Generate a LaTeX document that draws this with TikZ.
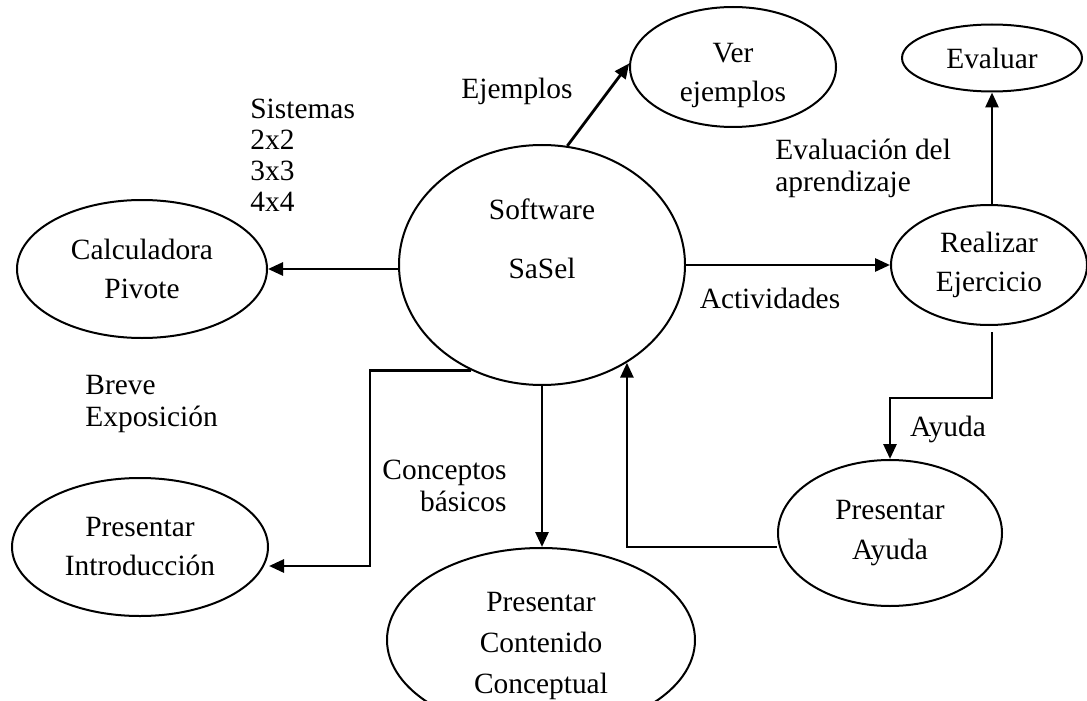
\documentclass[tikz,border=0pt]{standalone}
\usepackage{fontspec}
\setmainfont{Liberation Serif}
\usetikzlibrary{shapes.geometric,arrows.meta}
\begin{document}
\begin{tikzpicture}[x=0.5pt,y=-0.5pt,
  proc/.style={draw, ellipse, line width=1pt, inner sep=0pt, align=center,
    font=\fontsize{14.7}{19.5}\selectfont},
  lbl/.style={inner sep=0pt, font=\fontsize{14.7}{16}\selectfont},
  arr/.style={line width=1.4pt, -{Triangle[length=7.5pt,width=6.5pt]}}]
\useasboundingbox (0,0) rectangle (1087,701);
% processes
\node[proc, minimum width=143pt, minimum height=120pt] (soft) at (542,265) {Software\\[10pt]SaSel\\[7pt]\mbox{}};
\node[proc, minimum width=103pt, minimum height=60pt] (ver) at (733,67) {\mbox{}\\[-1.8pt]Ver\\ejemplos};
\node[proc, minimum width=90pt, minimum height=33.5pt] (eval) at (992,58) {Evaluar};
\node[proc, minimum width=98pt, minimum height=60pt] (real) at (989,265) {Realizar\\Ejercicio};
\node[proc, minimum width=125pt, minimum height=69pt] (calc) at (142,269) {Calculadora\\Pivote};
\node[proc, minimum width=128pt, minimum height=69pt] (intro) at (140,547) {Presentar\\Introducción};
\node[proc, minimum width=154pt, minimum height=92pt] (cont) at (541,640) {\mbox{}\\[-4pt]Presentar\\[1pt]Contenido\\[1pt]Conceptual};
\node[proc, minimum width=112pt, minimum height=73pt] (ayuda) at (890,533) {Presentar\\[0.5pt]Ayuda};
% labels
\node[lbl, align=left, anchor=north west, font=\fontsize{14.7}{15.5}\selectfont] (sist) at (250,99) {Sistemas\\2x2\\3x3\\4x4};
\node[lbl] (ejl) at (517,91) {Ejemplos};
\node[lbl, align=left, anchor=north west] (evl) at (775,139) {Evaluación del\\aprendizaje};
\node[lbl] (act) at (770,298) {Actividades};
\node[lbl, align=left, anchor=north west] (brv) at (85,375) {Breve\\Exposición};
\node[lbl, align=right, anchor=north east] (cpt) at (507,460) {Conceptos\\básicos};
\node[lbl] (ayl) at (948,429) {Ayuda};
% connectors
\draw[arr] (soft.78) -- (ver.178);
\draw[arr] (calc.east -| soft.west) -- (calc.east);
\draw[arr] (soft.east) -- (real.west);
\draw[arr] (eval.south |- real.north) -- (eval.south);
\draw[arr] ([yshift=-3pt]real.south -| eval.south) -- ++(0,66) -| (ayuda.north);
\draw[arr] ([yshift=-7pt]ayuda.west) -| (soft.-49);
\draw[arr] (soft.south) -- (soft.south |- cont.north);
\draw[arr] (soft.236) -- ++(-101,0) |- ([yshift=-9.5pt]intro.east);
\end{tikzpicture}
\end{document}
